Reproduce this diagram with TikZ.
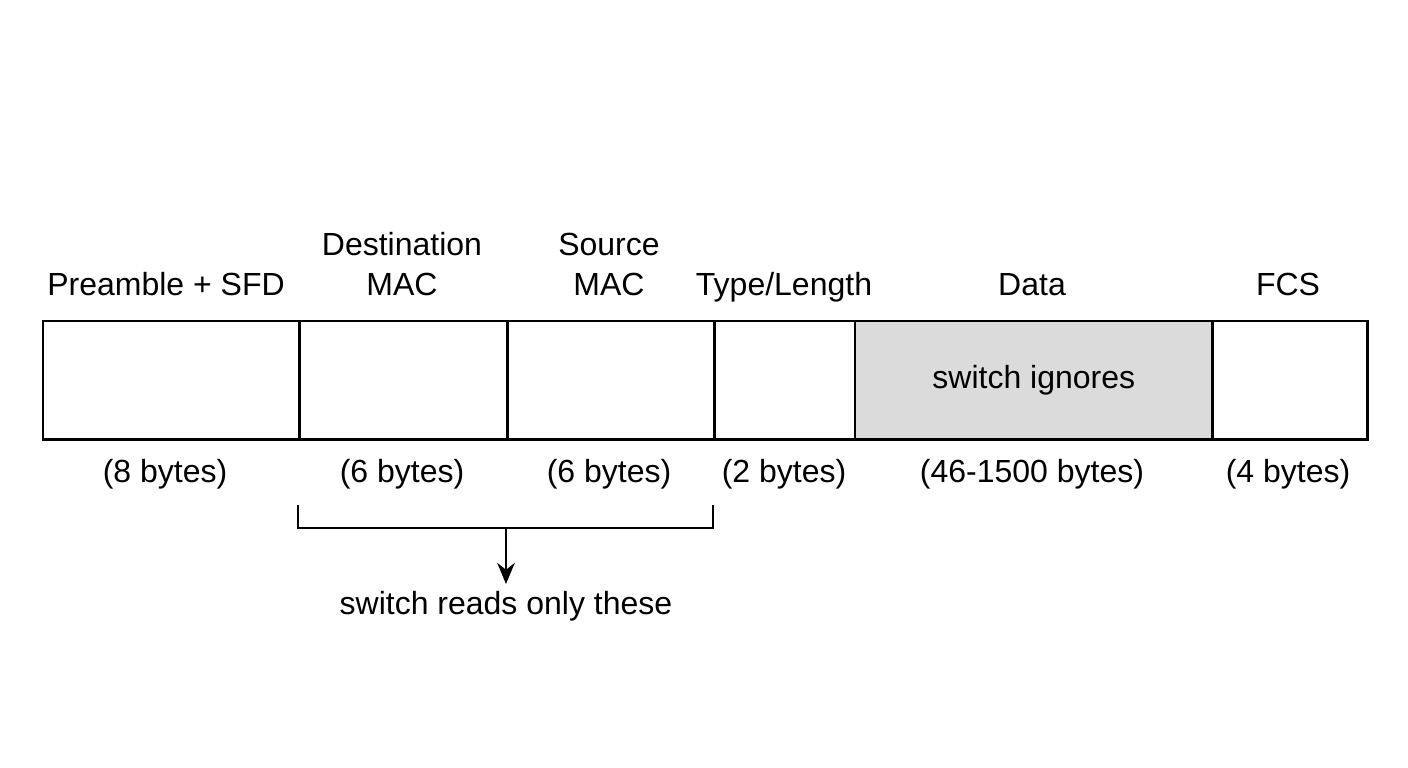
\documentclass[tikz,border=0pt]{standalone}
\usepackage{fontspec}
\setmainfont{Liberation Sans}
\usetikzlibrary{positioning,arrows.meta}
\begin{document}
\begin{tikzpicture}[
        x=0.01cm, y=-0.01cm,
        font=\fontsize{9.1pt}{11.4pt}\selectfont,
        field/.style={
            rectangle, draw=black, line width=0.7pt,
            minimum height=1.18cm, inner sep=0pt, anchor=north west
        },
        label/.style={align=center, anchor=base},
        arrow/.style={-{Stealth[length=6pt,width=5pt]}, line width=0.7pt}
    ]
        \useasboundingbox (0,0) rectangle (1408,768);

        % Felder
        \node[field, minimum width=2.56cm] (pre) at (42,320) {};
        \node[field, minimum width=2.08cm] (dst) at (298,320) {};
        \node[field, minimum width=2.07cm] (src) at (506,320) {};
        \node[field, minimum width=1.41cm] (typ) at (713,320) {};
        \node[field, minimum width=3.57cm, fill=gray!28] (dat) at (854,320) {switch ignores};
        \node[field, minimum width=1.55cm] (fcs) at (1211,320) {};

        % Namen
        \node[label] at (166,296) {Preamble + SFD};
        \node[label] at (402,296) {Destination\\MAC};
        \node[label] at (609,296) {Source\\MAC};
        \node[label] at (784,296) {Type/Length};
        \node[label] at (1032,296) {Data};
        \node[label] at (1288,296) {FCS};

        % Längen
        \node[label] at (165,483) {(8 bytes)};
        \node[label] at (402,483) {(6 bytes)};
        \node[label] at (609,483) {(6 bytes)};
        \node[label] at (784,483) {(2 bytes)};
        \node[label] at (1032,483) {(46-1500 bytes)};
        \node[label] at (1288,483) {(4 bytes)};

        % Klammer
        \coordinate (bl) at (298,505);
        \coordinate (br) at (713,505);
        \coordinate (bm) at (506,528);
        \draw[line width=0.7pt] (bl) |- (br |- bm) -- (br);
        \node[anchor=north, inner sep=2pt] (reads) at (506,584) {switch reads only these};
        \draw[arrow] (bm) -- (reads.north);

    \end{tikzpicture}
\end{document}
